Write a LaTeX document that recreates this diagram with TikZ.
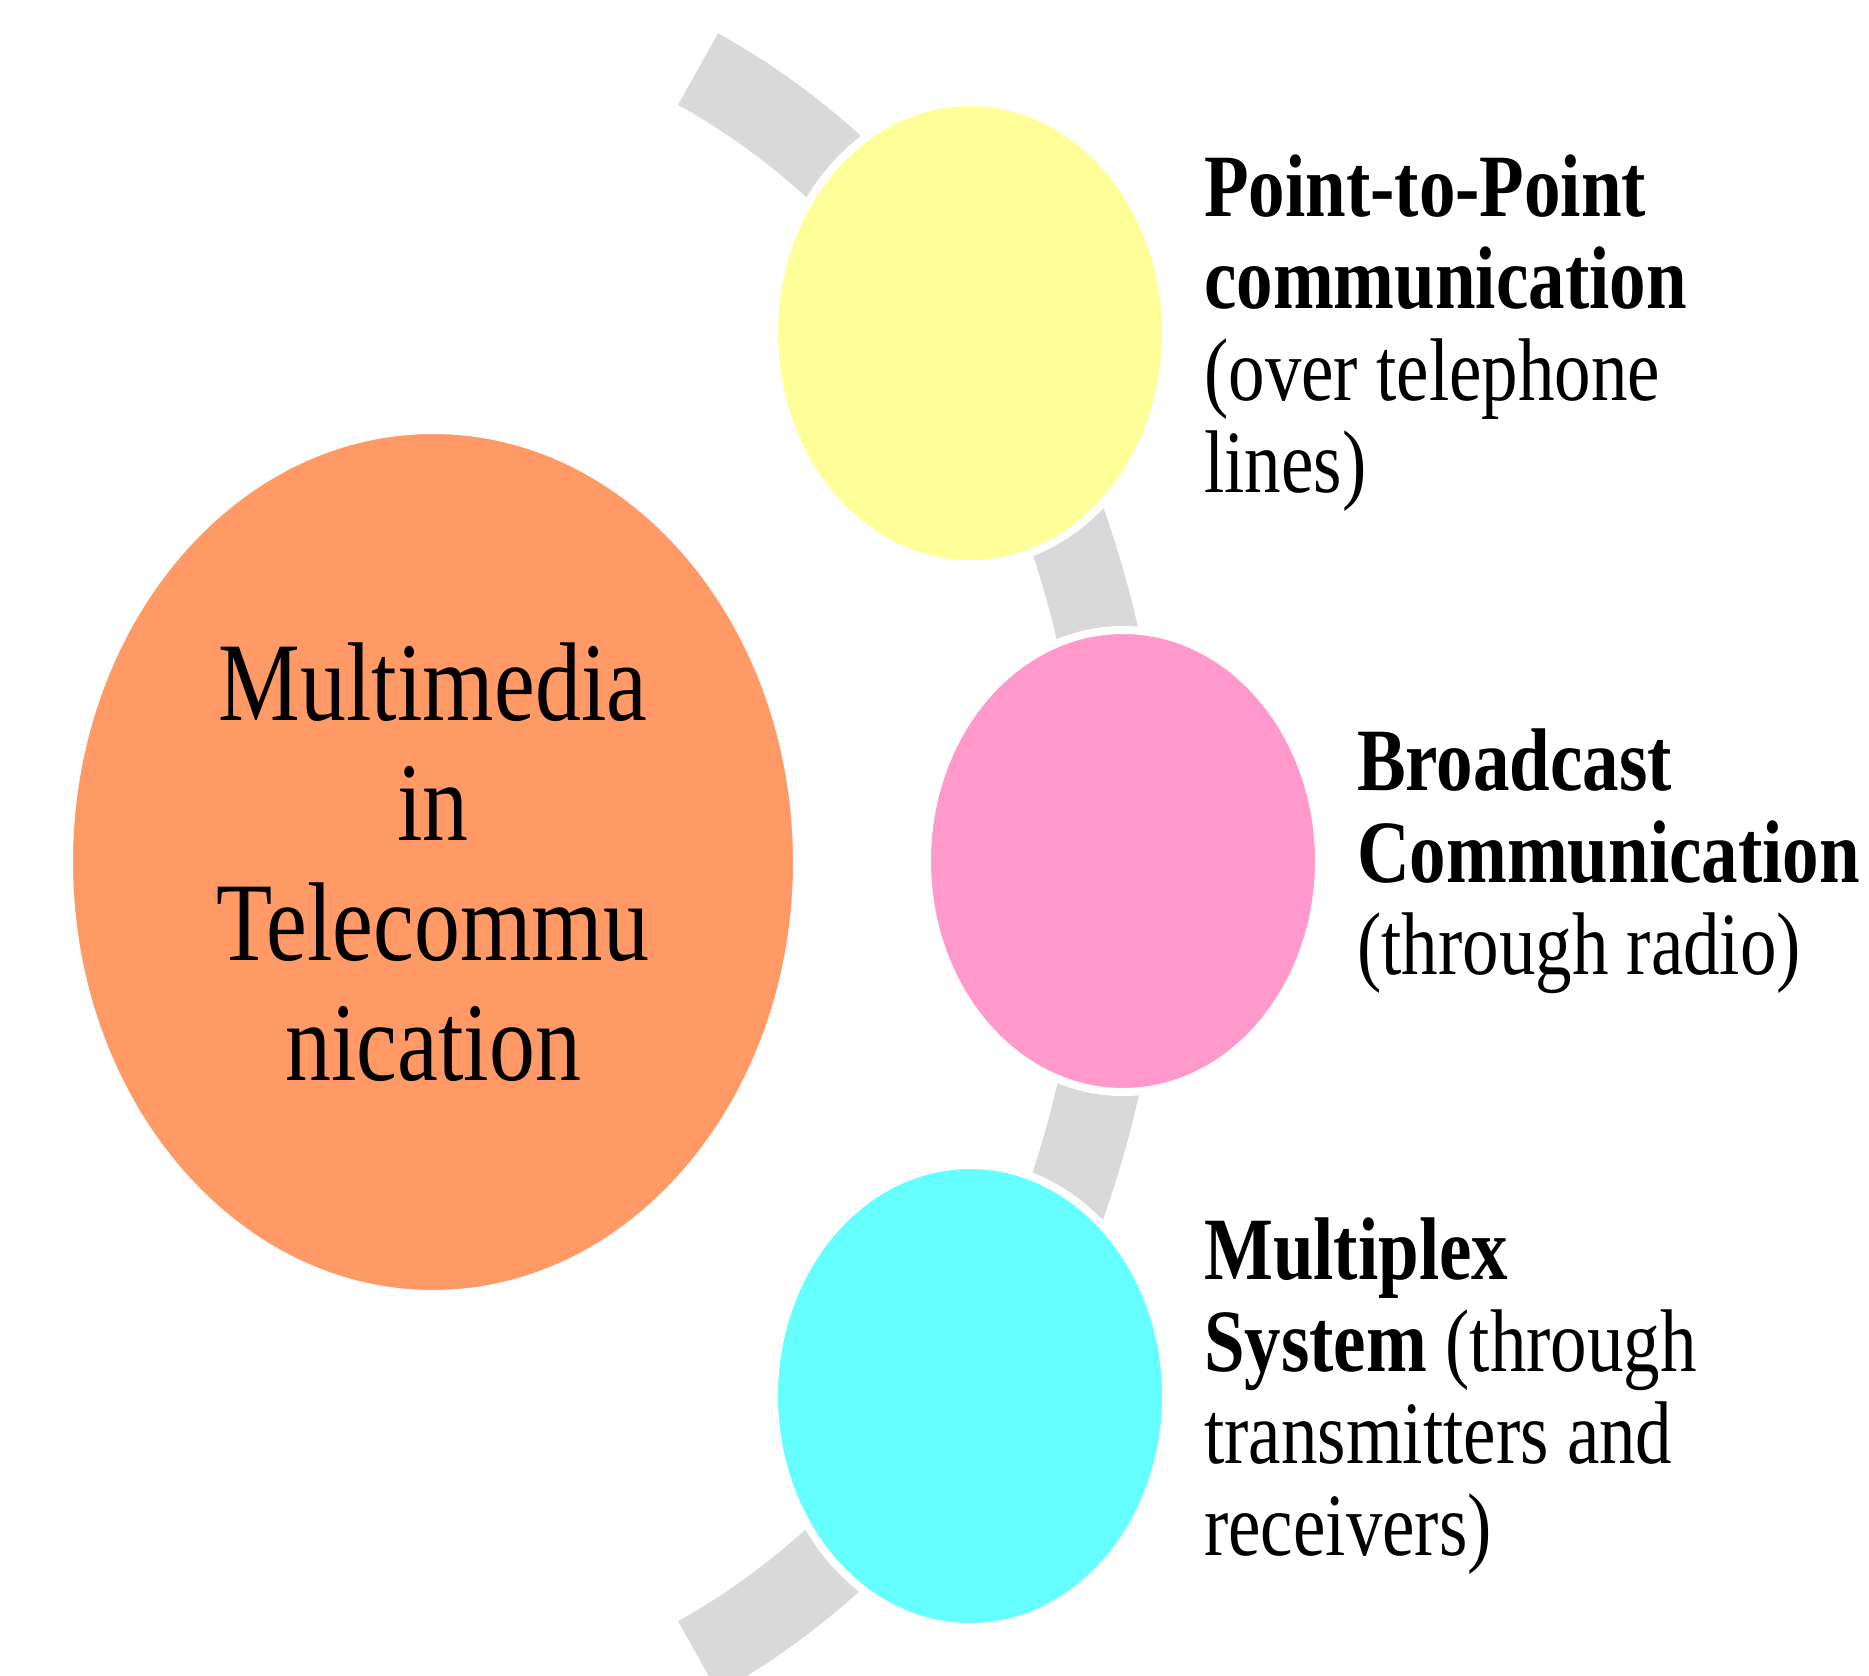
\documentclass[tikz,border=0pt]{standalone}
\usepackage{fontspec}
\setmainfont{Liberation Serif}[FakeStretch=0.82]
\usetikzlibrary{positioning,shapes.geometric}

\definecolor{hubfill}{HTML}{FF9966}
\definecolor{topfill}{HTML}{FFFF99}
\definecolor{midfill}{HTML}{FF99CC}
\definecolor{lowfill}{HTML}{66FFFF}
\definecolor{trackgray}{HTML}{D9D9D9}

\begin{document}
\begin{tikzpicture}[x=1pt,y=-1pt,
    bubble/.style={
      % The shape:
      ellipse,inner sep=0pt,minimum width=392pt,minimum height=462pt,
      % The rest
      draw=white,line width=8pt},
    hub/.style={bubble,minimum width=728pt,minimum height=864pt,
      fill=hubfill,align=center,font=\fontsize{112}{120}\selectfont},
    blurb/.style={align=left,inner sep=0pt,
      font=\fontsize{89}{92}\selectfont},
    track/.style={draw=trackgray,line width=82pt}]
  \useasboundingbox (0,0) rectangle (1869,1676);
  \clip (0,0) rectangle (1869,1676);
  % grey band behind the bubbles
  \coordinate (mid) at (387,863);
  \draw[track] ([shift={(-65:736 and 876)}]mid)
    arc[start angle=-65,end angle=65,x radius=736,y radius=876];
  % bubbles
  \node[hub] (hub) at (433,862) {Multimedia\\in\\Telecommu\\nication};
  \node[bubble,fill=topfill] (ptp) at (970,333) {};
  \node[bubble,fill=midfill] (bcast) at (1123,861) {};
  \node[bubble,fill=lowfill] (mplex) at (970,1396) {};
  % texts
  \node[blurb,right=34pt of ptp] (ptptext)
    {\textbf{Point-to-Point}\\\textbf{communication}\\(over telephone\\lines)};
  \node[blurb,right=34pt of bcast] (bcasttext)
    {\textbf{Broadcast}\\\textbf{Communication}\\(through radio)};
  \node[blurb,right=34pt of mplex] (mplextext)
    {\textbf{Multiplex}\\\textbf{System} (through\\transmitters and\\receivers)};
\end{tikzpicture}
\end{document}
